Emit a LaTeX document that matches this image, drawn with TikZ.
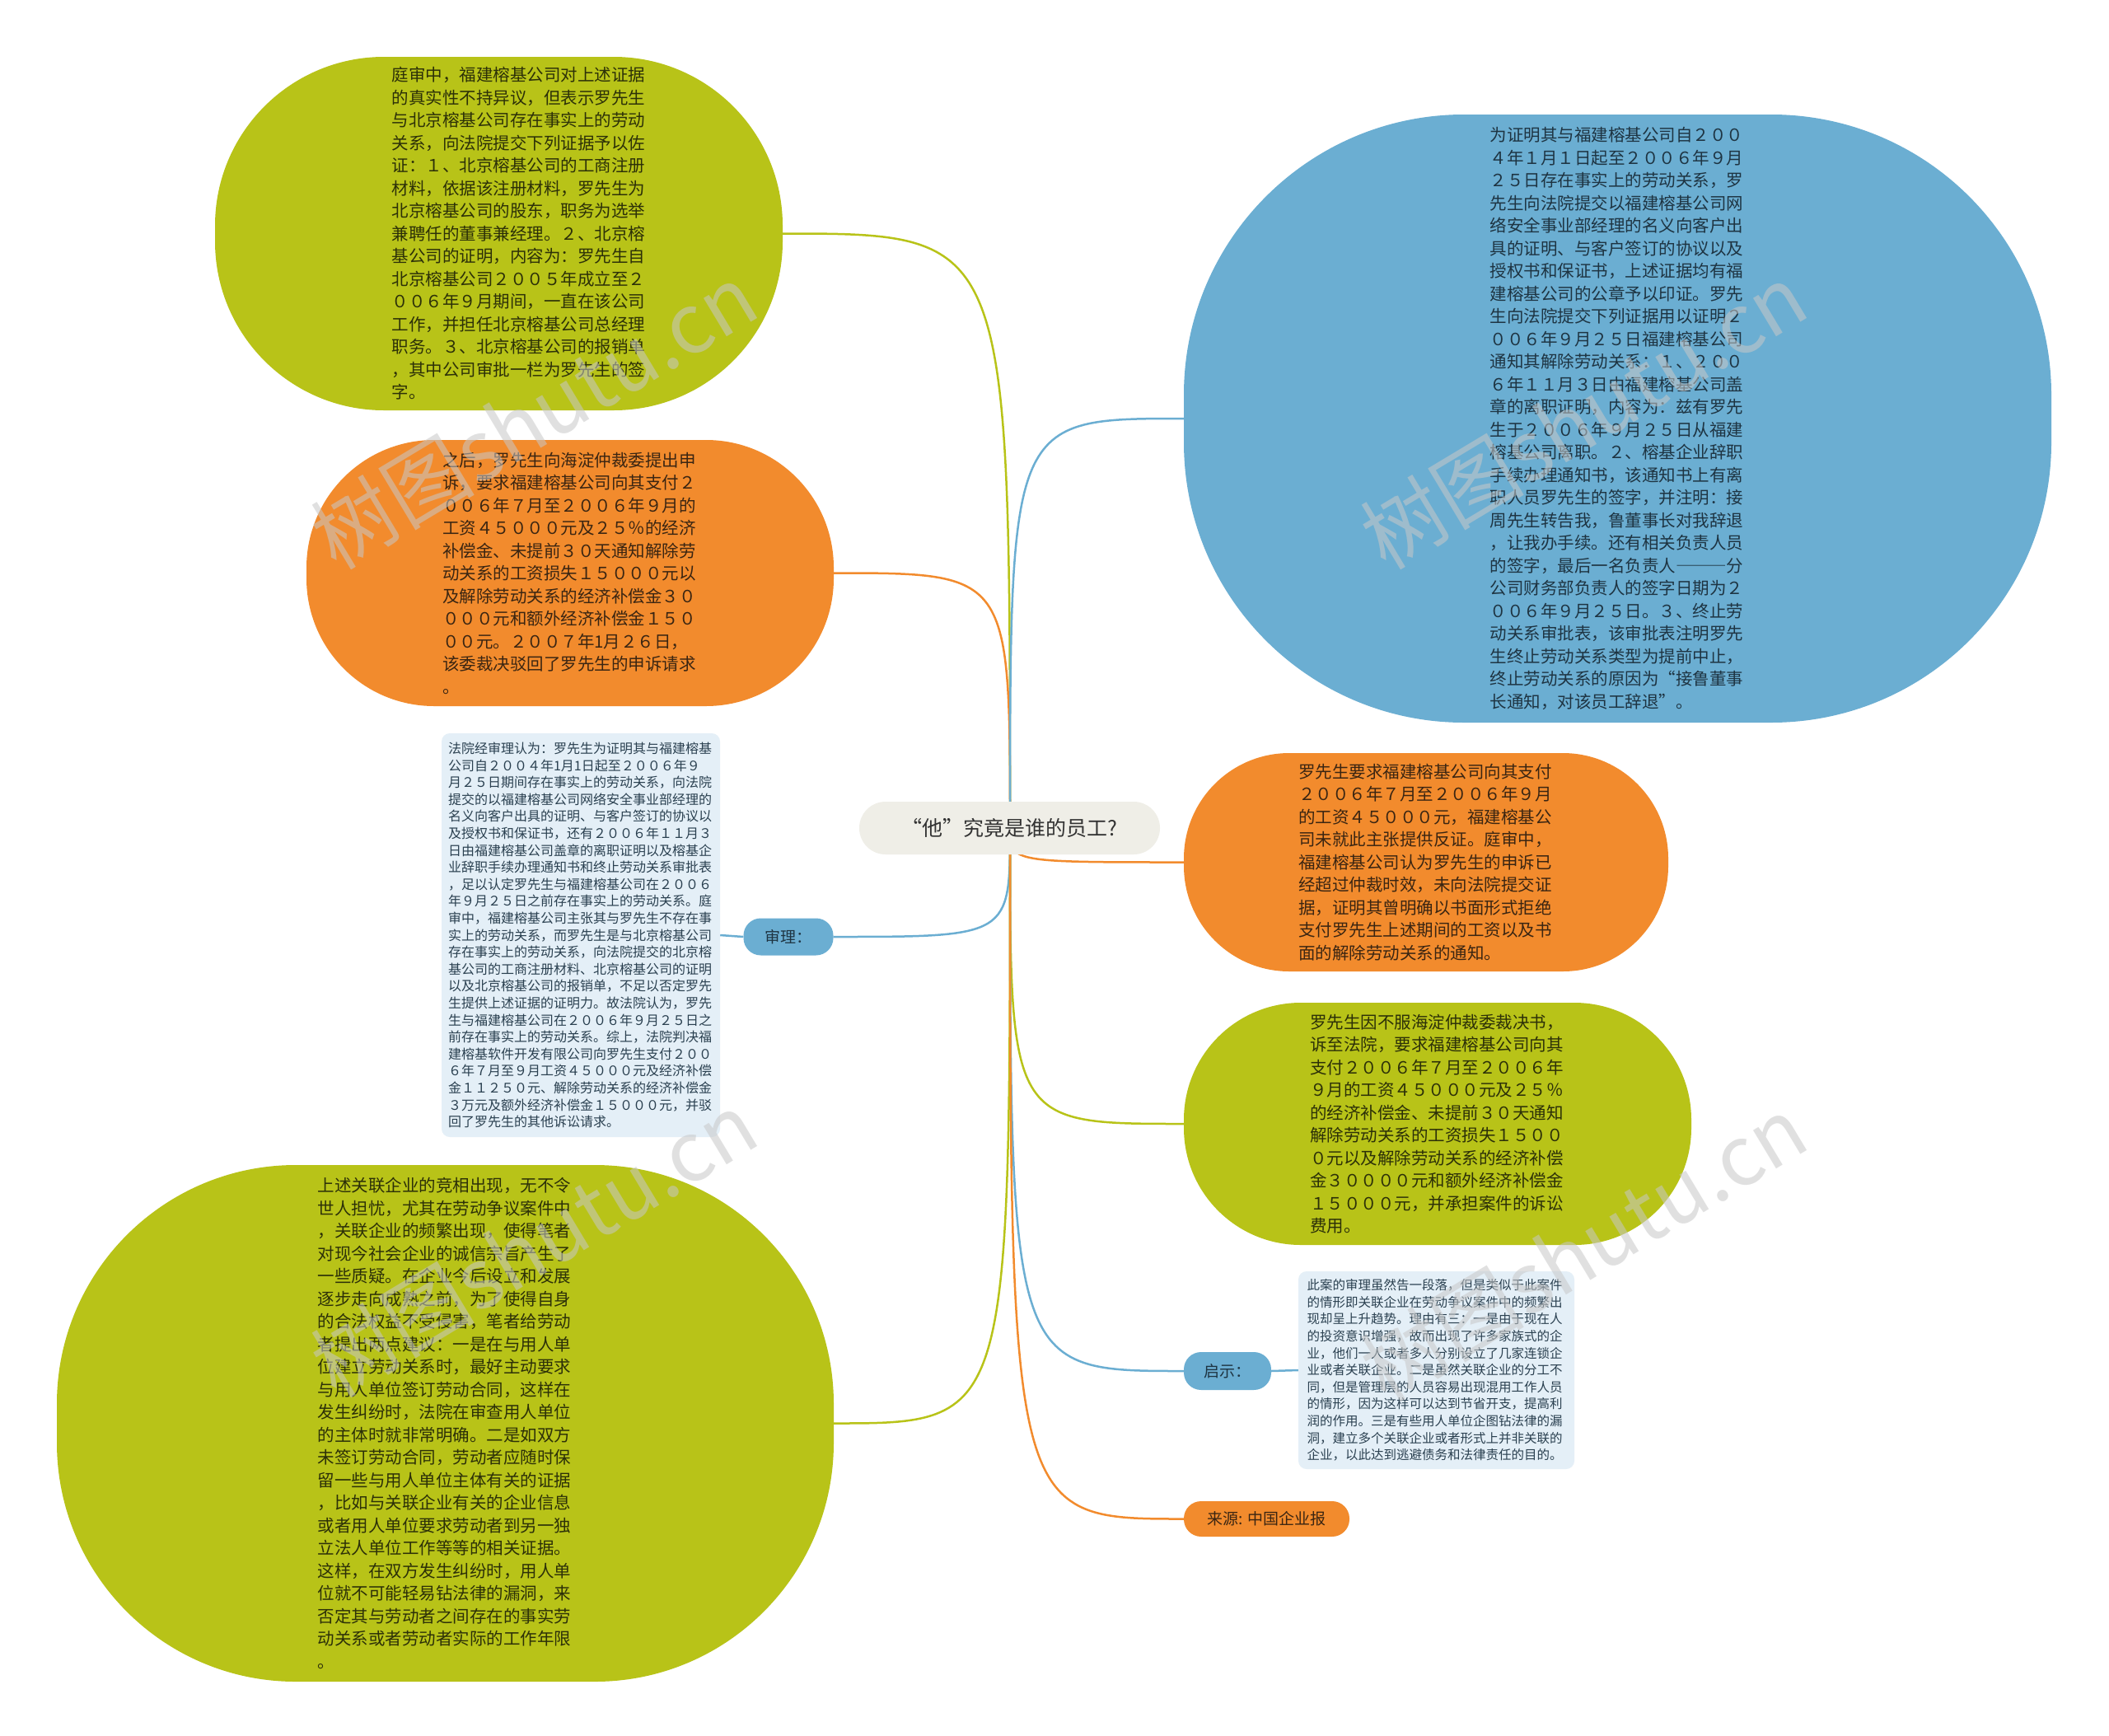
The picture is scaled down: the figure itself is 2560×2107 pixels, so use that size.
\documentclass[tikz,border=0pt]{standalone}
\usepackage{fontspec}
\newfontfamily\cjk{Noto Sans CJK SC}
\usetikzlibrary{backgrounds}
\definecolor{gr}{HTML}{B8C318}
\definecolor{org}{HTML}{F28B2D}
\definecolor{blu}{HTML}{6BAED2}
\definecolor{ctr}{HTML}{EFEEE7}
\definecolor{boxc}{HTML}{E4EFF7}
\definecolor{tgr}{HTML}{2C3008}
\definecolor{tor}{HTML}{3A2512}
\definecolor{tbl}{HTML}{1E3442}
\definecolor{tbx}{HTML}{2A4050}
\definecolor{wm}{RGB}{200,200,200}
\begin{document}
\begin{tikzpicture}[x=1pt,y=-1pt,
  bub/.style={inner sep=0pt, align=left, text width=310pt, font=\cjk\fontsize{20.5}{27.5}\selectfont},
  notebox/.style={inner sep=0pt, align=left, rounded corners=10pt, fill=boxc, text=tbx},
  lab/.style={inner sep=0pt, rounded corners=21pt, font=\cjk\fontsize{19}{22}\selectfont},
  conn/.style={line width=2.5pt},
  wmark/.style={rotate=31, text=wm, opacity=0.55, font=\cjk\fontsize{100}{110}\selectfont}
]
% root
\node[fill=ctr, rounded corners=32pt, minimum width=365pt, minimum height=64pt, inner sep=0pt,
  font=\cjk\fontsize{25}{30}\selectfont, text=black!80] (root) at (1225.5,1005) {“他”究竟是谁的员工?};
\coordinate (o) at (1226,1006);

% A top-left green
\node[bub, text width=360pt, fill=gr, text=tgr, minimum width=689pt, minimum height=429pt, rounded corners=205pt] (A) at (605.5,283.5) {\leftskip=50pt\relax
庭审中，福建榕基公司对上述证据\\
的真实性不持异议，但表示罗先生\\
与北京榕基公司存在事实上的劳动\\
关系，向法院提交下列证据予以佐\\
证：１、北京榕基公司的工商注册\\
材料，依据该注册材料，罗先生为\\
北京榕基公司的股东，职务为选举\\
兼聘任的董事兼经理。２、北京榕\\
基公司的证明，内容为：罗先生自\\
北京榕基公司２００５年成立至２\\
００６年９月期间，一直在该公司\\
工作，并担任北京榕基公司总经理\\
职务。３、北京榕基公司的报销单\\
，其中公司审批一栏为罗先生的签\\
字。\par};

% B left orange
\node[bub, fill=org, text=tor, minimum width=640pt, minimum height=323pt, rounded corners=155pt] (B) at (692,695.5) {%
之后，罗先生向海淀仲裁委提出申\\
诉，要求福建榕基公司向其支付２\\
００６年７月至２００６年９月的\\
工资４５０００元及２５％的经济\\
补偿金、未提前３０天通知解除劳\\
动关系的工资损失１５０００元以\\
及解除劳动关系的经济补偿金３０\\
０００元和额外经济补偿金１５０\\
００元。２００７年1月２６日，\\
该委裁决驳回了罗先生的申诉请求\\
。};

% C note box (审理)
\node[notebox, minimum width=338pt, minimum height=490pt, text width=322pt,
  font=\cjk\fontsize{16}{20.6}\selectfont] (C) at (705,1135) {%
法院经审理认为：罗先生为证明其与福建榕基\\
公司自２００４年1月1日起至２００６年９\\
月２５日期间存在事实上的劳动关系，向法院\\
提交的以福建榕基公司网络安全事业部经理的\\
名义向客户出具的证明、与客户签订的协议以\\
及授权书和保证书，还有２００６年１１月３\\
日由福建榕基公司盖章的离职证明以及榕基企\\
业辞职手续办理通知书和终止劳动关系审批表\\
，足以认定罗先生与福建榕基公司在２００６\\
年９月２５日之前存在事实上的劳动关系。庭\\
审中，福建榕基公司主张其与罗先生不存在事\\
实上的劳动关系，而罗先生是与北京榕基公司\\
存在事实上的劳动关系，向法院提交的北京榕\\
基公司的工商注册材料、北京榕基公司的证明\\
以及北京榕基公司的报销单，不足以否定罗先\\
生提供上述证据的证明力。故法院认为，罗先\\
生与福建榕基公司在２００６年９月２５日之\\
前存在事实上的劳动关系。综上，法院判决福\\
建榕基软件开发有限公司向罗先生支付２００\\
６年７月至９月工资４５０００元及经济补偿\\
金１１２５０元、解除劳动关系的经济补偿金\\
３万元及额外经济补偿金１５０００元，并驳\\
回了罗先生的其他诉讼请求。};

\node[lab, fill=blu, text=tbl, minimum width=109pt, minimum height=45pt] (L1) at (957,1137) {审理：};

% D bottom-left green
\node[bub, fill=gr, text=tgr, minimum width=943pt, minimum height=627pt, rounded corners=290pt] (D) at (540.5,1727.5) {%
上述关联企业的竞相出现，无不令\\
世人担忧，尤其在劳动争议案件中\\
，关联企业的频繁出现，使得笔者\\
对现今社会企业的诚信宗旨产生了\\
一些质疑。在企业今后设立和发展\\
逐步走向成熟之前，为了使得自身\\
的合法权益不受侵害，笔者给劳动\\
者提出两点建议：一是在与用人单\\
位建立劳动关系时，最好主动要求\\
与用人单位签订劳动合同，这样在\\
发生纠纷时，法院在审查用人单位\\
的主体时就非常明确。二是如双方\\
未签订劳动合同，劳动者应随时保\\
留一些与用人单位主体有关的证据\\
，比如与关联企业有关的企业信息\\
或者用人单位要求劳动者到另一独\\
立法人单位工作等等的相关证据。\\
这样，在双方发生纠纷时，用人单\\
位就不可能轻易钻法律的漏洞，来\\
否定其与劳动者之间存在的事实劳\\
动关系或者劳动者实际的工作年限\\
。};

% E right blue
\node[bub, fill=blu, text=tbl, minimum width=1053pt, minimum height=738pt, rounded corners=340pt] (E) at (1963.5,508) {%
为证明其与福建榕基公司自２００\\
４年１月１日起至２００６年９月\\
２５日存在事实上的劳动关系，罗\\
先生向法院提交以福建榕基公司网\\
络安全事业部经理的名义向客户出\\
具的证明、与客户签订的协议以及\\
授权书和保证书，上述证据均有福\\
建榕基公司的公章予以印证。罗先\\
生向法院提交下列证据用以证明２\\
００６年９月２５日福建榕基公司\\
通知其解除劳动关系：１、２００\\
６年１１月３日由福建榕基公司盖\\
章的离职证明，内容为：兹有罗先\\
生于２００６年９月２５日从福建\\
榕基公司离职。２、榕基企业辞职\\
手续办理通知书，该通知书上有离\\
职人员罗先生的签字，并注明：接\\
周先生转告我，鲁董事长对我辞退\\
，让我办手续。还有相关负责人员\\
的签字，最后一名负责人{\addfontfeatures{RawFeature=+fwid}———}分\\
公司财务部负责人的签字日期为２\\
００６年９月２５日。３、终止劳\\
动关系审批表，该审批表注明罗先\\
生终止劳动关系类型为提前中止，\\
终止劳动关系的原因为“接鲁董事\\
长通知，对该员工辞退”。};

% F right orange
\node[bub, fill=org, text=tor, minimum width=588pt, minimum height=265pt, rounded corners=128pt] (F) at (1731,1046.5) {%
罗先生要求福建榕基公司向其支付\\
２００６年７月至２００６年９月\\
的工资４５０００元，福建榕基公\\
司未就此主张提供反证。庭审中，\\
福建榕基公司认为罗先生的申诉已\\
经超过仲裁时效，未向法院提交证\\
据，证明其曾明确以书面形式拒绝\\
支付罗先生上述期间的工资以及书\\
面的解除劳动关系的通知。};

% G right green
\node[bub, fill=gr, text=tgr, minimum width=616pt, minimum height=294pt, rounded corners=142pt] (G) at (1745,1364) {%
罗先生因不服海淀仲裁委裁决书，\\
诉至法院，要求福建榕基公司向其\\
支付２００６年７月至２００６年\\
９月的工资４５０００元及２５％\\
的经济补偿金、未提前３０天通知\\
解除劳动关系的工资损失１５００\\
０元以及解除劳动关系的经济补偿\\
金３００００元和额外经济补偿金\\
１５０００元，并承担案件的诉讼\\
费用。};

% H note box (启示)
\node[notebox, minimum width=335pt, minimum height=240pt, text width=314pt,
  font=\cjk\fontsize{15.5}{20.6}\selectfont] (H) at (1743.5,1663) {%
此案的审理虽然告一段落，但是类似于此案件\\
的情形即关联企业在劳动争议案件中的频繁出\\
现却呈上升趋势。理由有三：一是由于现在人\\
的投资意识增强，故而出现了许多家族式的企\\
业，他们一人或者多人分别设立了几家连锁企\\
业或者关联企业。二是虽然关联企业的分工不\\
同，但是管理层的人员容易出现混用工作人员\\
的情形，因为这样可以达到节省开支，提高利\\
润的作用。三是有些用人单位企图钻法律的漏\\
洞，建立多个关联企业或者形式上并非关联的\\
企业，以此达到逃避债务和法律责任的目的。};

\node[lab, fill=blu, text=tbl, minimum width=106pt, minimum height=46pt] (L2) at (1490,1664) {启示：};
\node[lab, fill=org, text=tor, minimum width=201pt, minimum height=43pt] (L3) at (1537.5,1843.5) {来源: 中国企业报};

% connectors
\begin{pgfonlayer}{background}
\fill[white] (0,0) rectangle (2560,2107);
\draw[conn, gr]  (o) .. controls (o |- A.east) and (o |- A.east) .. (A.east);
\draw[conn, org] (o) .. controls (o |- B.east) and (o |- B.east) .. (B.east);
\draw[conn, blu] (o) .. controls (o |- L1.east) and (o |- L1.east) .. (L1.east);
\draw[conn, gr]  (o) .. controls (o |- D.east) and (o |- D.east) .. (D.east);
\draw[conn, blu] (o) .. controls (o |- E.west) and (o |- E.west) .. (E.west);
\draw[conn, org] (o) .. controls (o |- F.west) and (o |- F.west) .. (F.west);
\draw[conn, gr]  (o) .. controls (o |- G.west) and (o |- G.west) .. (G.west);
\draw[conn, blu] (o) .. controls (o |- L2.west) and (o |- L2.west) .. (L2.west);
\draw[conn, org] (o) .. controls (o |- L3.west) and (o |- L3.west) .. (L3.west);
\draw[conn, blu] (L1.west) -- (C.east);
\draw[conn, blu] (L2.east) -- (H.west);
\end{pgfonlayer}

% watermarks
\node[wmark] (w1) at (648,505) {树图shutu.cn};
\node[wmark] (w2) at (648,1510) {树图shutu.cn};
\node[wmark] (w3) at (1922,505) {树图shutu.cn};
\node[wmark] (w4) at (1922,1515) {树图shutu.cn};
\useasboundingbox (0,0) rectangle (2560,2107);
\end{tikzpicture}
\end{document}
